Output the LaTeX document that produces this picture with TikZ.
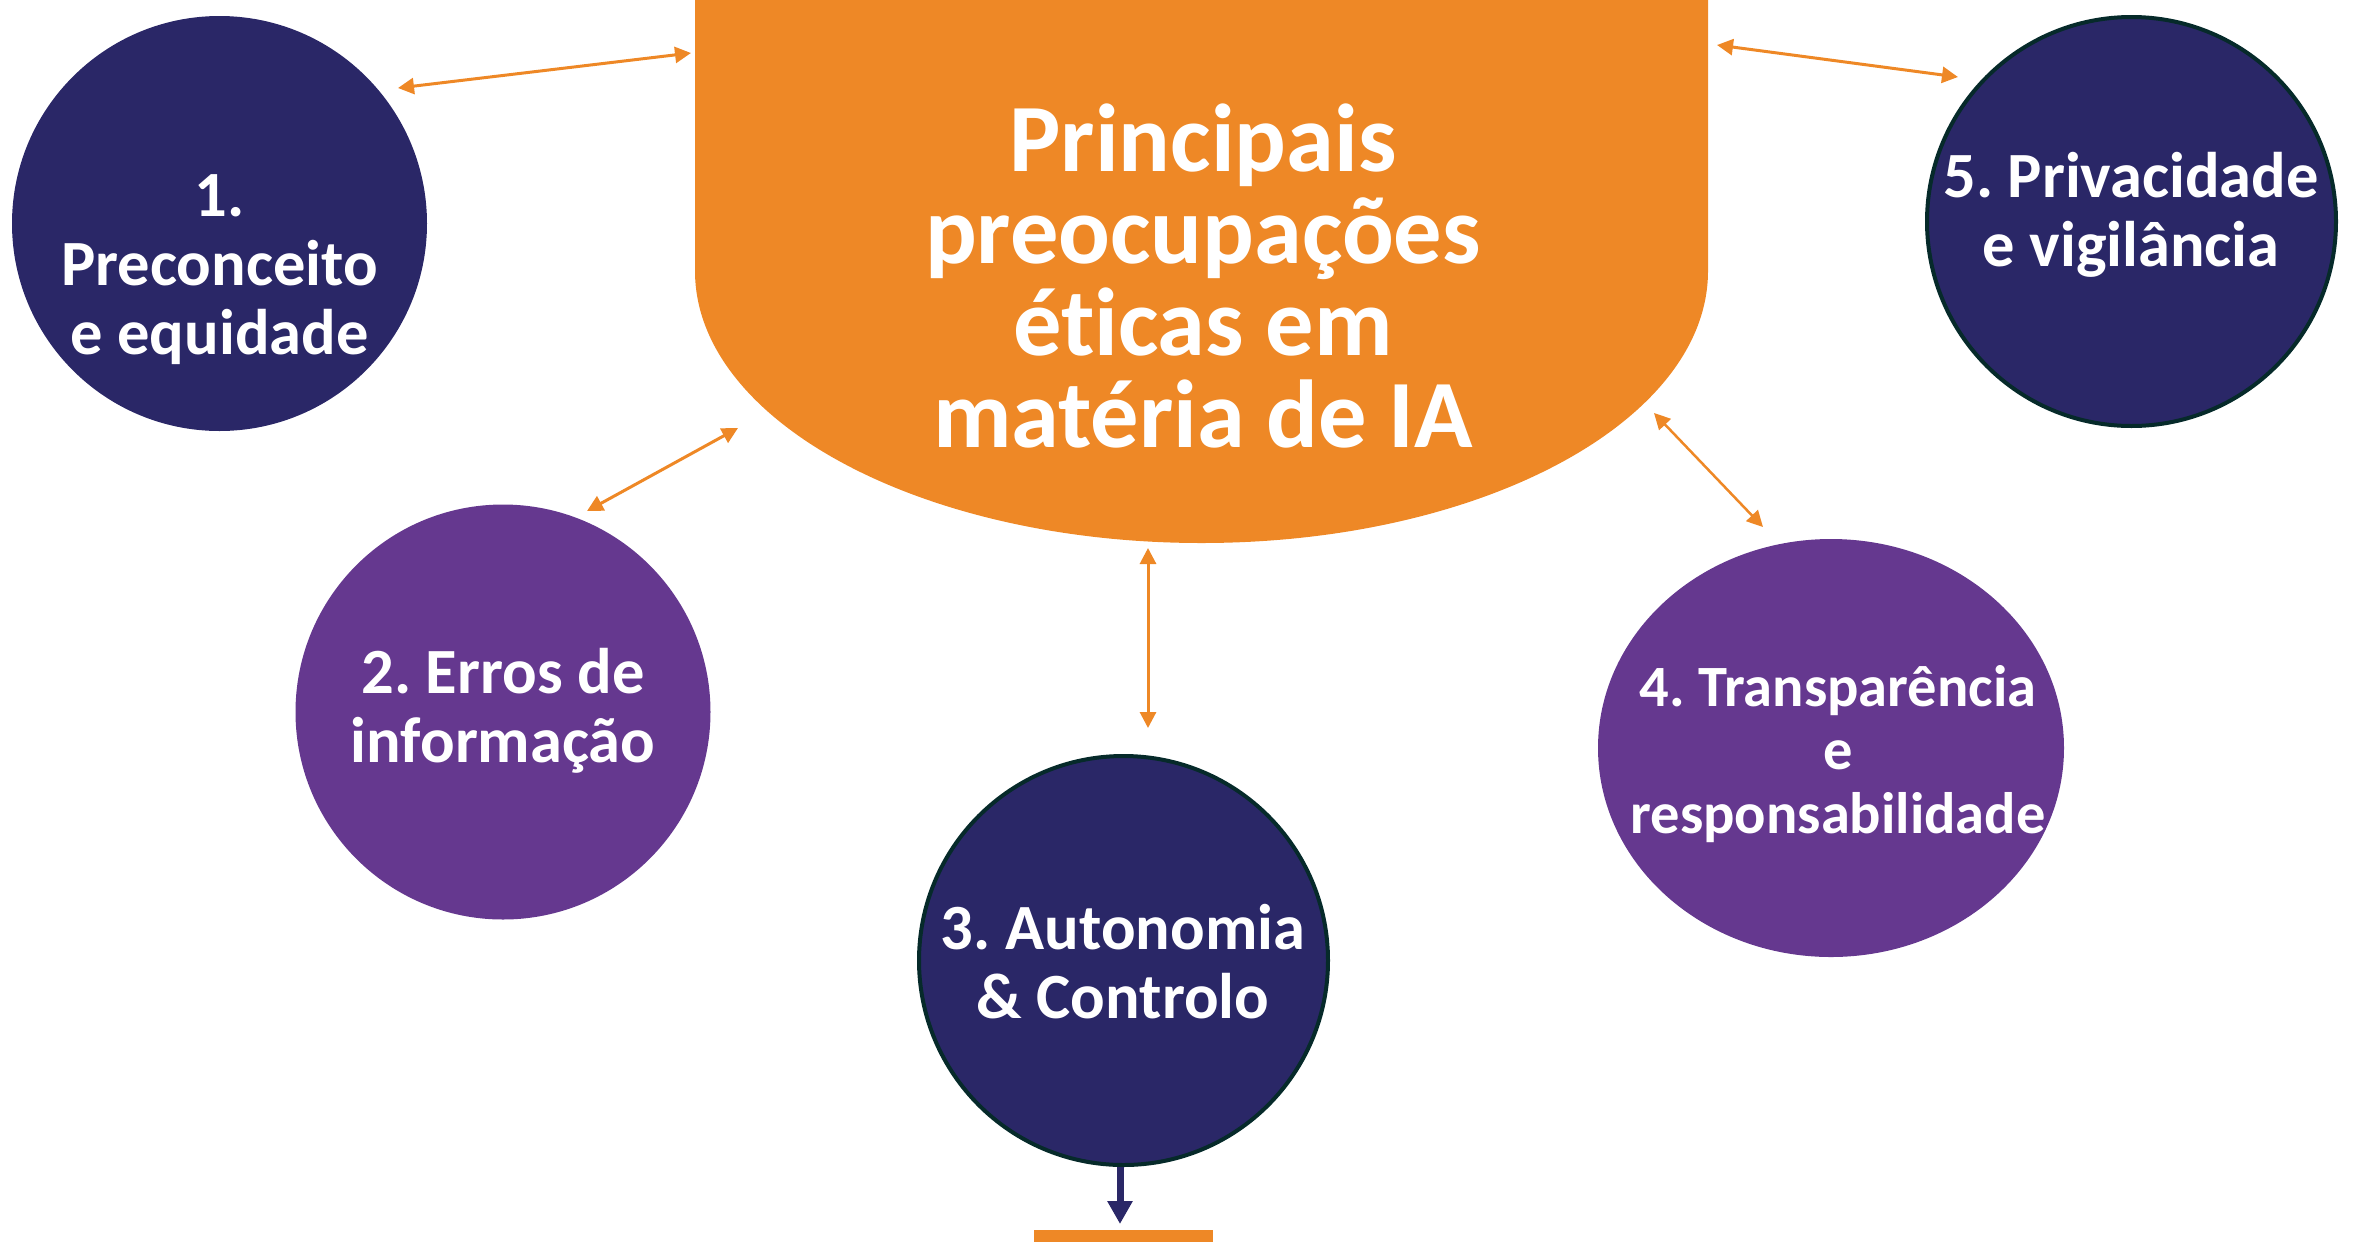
\documentclass[tikz,border=0pt]{standalone}
\usepackage{fontspec}
\setmainfont[Ligatures=NoCommon]{Carlito}
\usetikzlibrary{arrows.meta,shapes.geometric}
\definecolor{aiorange}{HTML}{EE8826}
\definecolor{ainavy}{HTML}{2A2767}
\definecolor{aipurple}{HTML}{65388F}
\definecolor{aiborder}{HTML}{062A2A}
\tikzset{
  navyball/.style={circle,fill=ainavy,inner sep=0pt},
  rimmed/.style={draw=aiborder,line width=4pt},
  purpleball/.style={circle,fill=aipurple,inner sep=0pt},
  balltext/.style={text=white,align=center,font=\bfseries\fontsize{64.5}{69}\selectfont,inner sep=0pt},
  link/.style={draw=aiorange,line width=3pt,{Triangle[length=16pt,width=16pt]}-{Triangle[length=16pt,width=16pt]}},
}
\frenchspacing
\begin{document}
\begin{tikzpicture}[x=1pt,y=1pt]
\useasboundingbox (0,0) rectangle (2354,-1243);
% central shape
\fill[aiorange] (695,0) -- (695,-271) arc[start angle=180,end angle=360,x radius=506.5pt,y radius=272pt] -- (1708,0) -- cycle;
\node[text=white,align=center,inner sep=0pt,font=\bfseries\fontsize{96.5}{92}\selectfont] (title) at (1203,-276)
  {Principais\\preocupações\\éticas em\\matéria de IA};
% circles
\node[navyball,minimum size=415pt] (c1) at (219.5,-223.5) {};
\node[balltext] (t1) at (219.5,-270) {1.\\Preconceito\\e equidade};
\node[purpleball,minimum size=415pt] (c2) at (503,-712) {};
\node[balltext] (t2) at (503,-711) {2. Erros de\\informação};
\node[navyball,rimmed,minimum size=409pt] (c3) at (1123.5,-960.5) {};
\node[balltext] (t3) at (1123,-962) {3. Autonomia\\\& Controlo};
\node[ellipse,fill=aipurple,inner sep=0pt,minimum width=466pt,minimum height=418pt] (c4) at (1831,-748) {};
\node[balltext,font=\bfseries\fontsize{58.5}{63.5}\selectfont] (t4) at (1838,-754) {4. Transparência\\e\\responsabilidade};
\node[navyball,rimmed,minimum size=409pt] (c5) at (2131.5,-221.5) {};
\node[balltext] (t5) at (2131,-215) {5. Privacidade\\e vigilância};
% connector end points
\coordinate (a1a) at (398,-88);   \coordinate (a1b) at (691,-53);
\coordinate (a5a) at (1717,-45);  \coordinate (a5b) at (1958,-77);
\coordinate (a2a) at (738,-428);  \coordinate (a2b) at (587,-511);
\coordinate (a3a) at (1148,-548); \coordinate (a3b) at (1148,-728);
\coordinate (a4a) at (1654,-413); \coordinate (a4b) at (1763,-527);
\draw[link] (a1a) -- (a1b);
\draw[link] (a5a) -- (a5b);
\draw[link] (a2a) -- (a2b);
\draw[link] (a3a) -- (a3b);
\draw[link,line width=2.5pt] (a4a) -- (a4b);
% bottom arrow and bar
\coordinate (down) at (1120,-1224);
\draw[ainavy,line width=7pt,-{Triangle[length=23pt,width=24pt]}] (c3.south) ++(-3.5,0) -- (down);
\node[fill=aiorange,inner sep=0pt,minimum width=179pt,minimum height=12pt] (bar) at (1123.5,-1236) {};
\end{tikzpicture}
\end{document}
